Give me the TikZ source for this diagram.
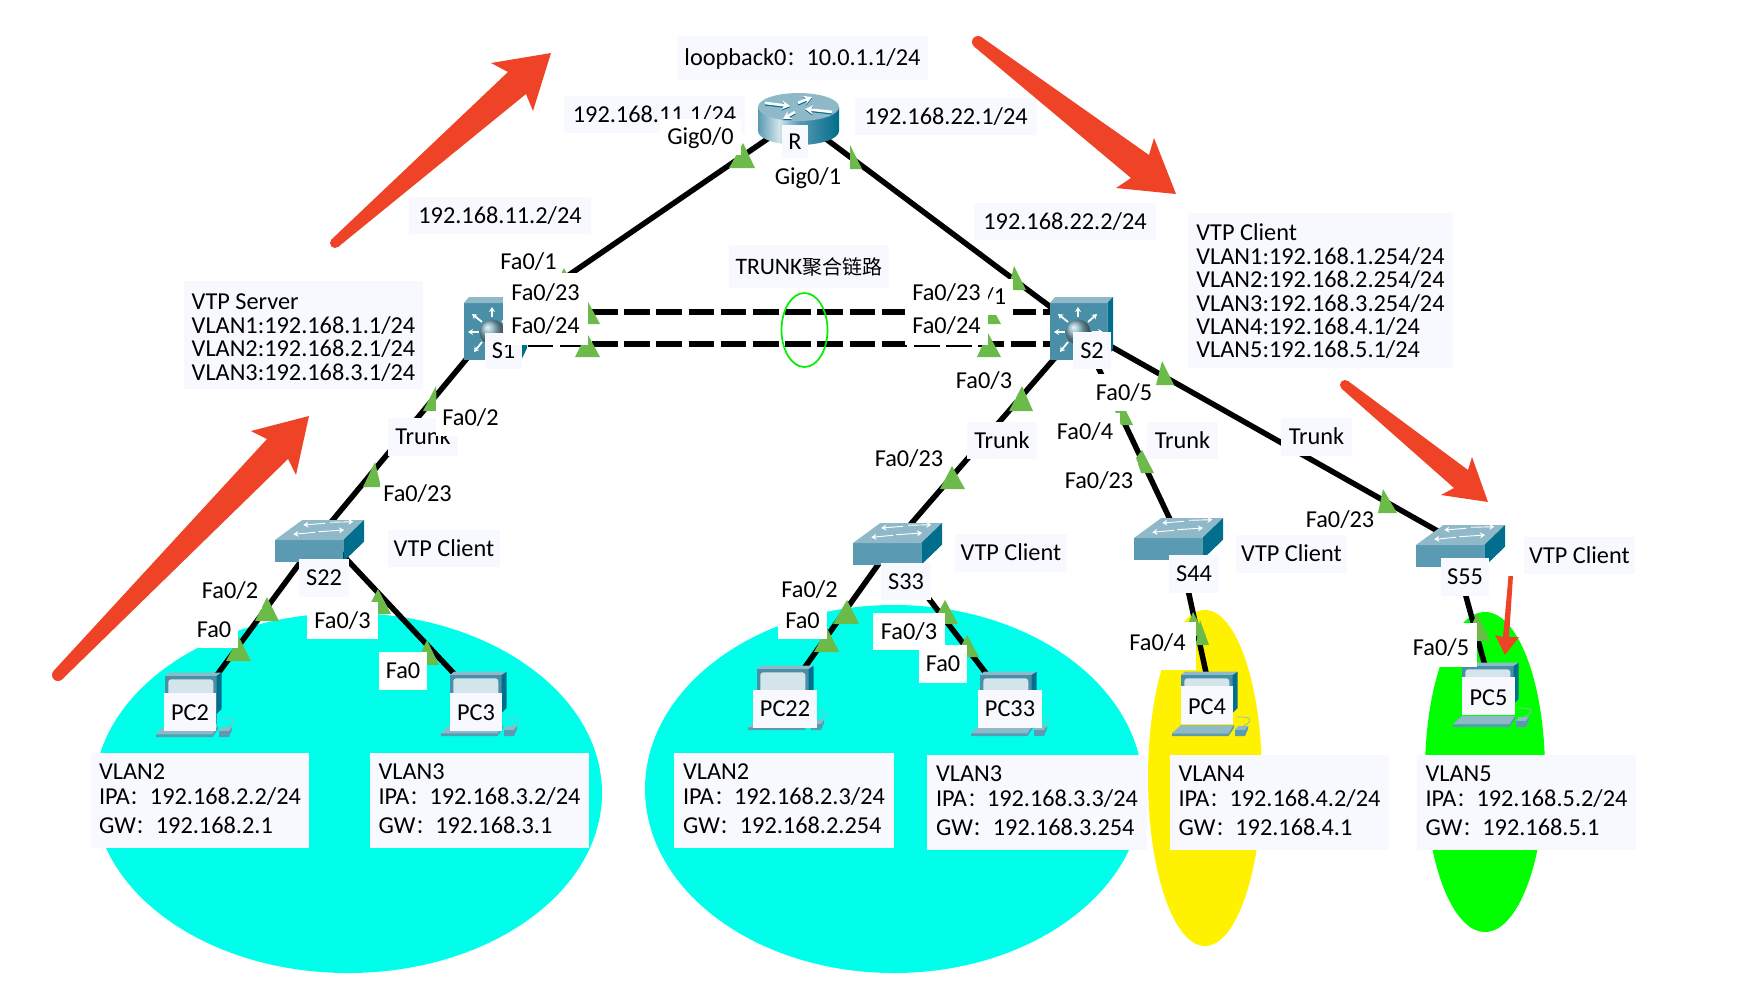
\documentclass[tikz,border=0pt]{standalone}
\usepackage{fontspec}
\setmainfont{Carlito}
\newfontfamily\cjk{Noto Sans CJK SC}
\usetikzlibrary{arrows.meta}
\definecolor{boxpale}{HTML}{F8F9FF}
\definecolor{cyanzone}{HTML}{00FFEA}
\definecolor{portc}{HTML}{6CBB4A}
\definecolor{redarrow}{HTML}{EE4327}
\definecolor{devfront}{HTML}{4A8FA8}
\definecolor{devtop}{HTML}{8FB9C9}
\definecolor{devdark}{HTML}{006E8C}
\definecolor{swfront}{HTML}{5A9AB2}
\definecolor{screenc}{HTML}{D3E4EB}
\definecolor{ringc}{HTML}{00EE00}
\pgfdeclarehorizontalshading{routerside}{100bp}{color(0bp)=(swfront); color(25bp)=(swfront); color(38bp)=(screenc); color(50bp)=(swfront); color(75bp)=(devdark); color(100bp)=(devdark)}
\newcommand{\fc}{{\cjk\fontsize{20}{24}\selectfont ：}}
\newcommand{\lastgap}{\rule[-3pt]{0pt}{3pt}}
\newcommand{\bx}[7]{%
  \pgfmathsetmacro\bxw{#4-#2}\pgfmathsetmacro\bxh{#5-#3}%
  \pgfmathsetmacro\bxcx{(#2+#4)/2}\pgfmathsetmacro\bxcy{(#3+#5)/2}%
  \node[#6,minimum width=\bxw pt,minimum height=\bxh pt] (#1) at (\bxcx,\bxcy) {#7};}
\newcommand{\tri}[5]{\fill[portc] (#1,#2) -- ++({#4},{#5}) -- ++({-(#4)-(#3)},0) -- cycle;}
\tikzset{
  linkline/.style={line width=5.5pt,black},
  trunkline/.style={line width=6pt,black,dash pattern=on 25.5pt off 6.7pt,dash phase=29.8pt},
  whitelbl/.style={font=\fontsize{24.3}{24}\selectfont,inner sep=0pt,text height=15.6pt,text depth=0pt,fill=white},
  palelbl/.style={whitelbl,fill=boxpale},
  infolbl/.style={font=\fontsize{24.3}{23.4}\selectfont,inner sep=0pt,fill=boxpale,align=left},
  vlanlbl/.style={font=\fontsize{24.3}{25}\selectfont,inner sep=0pt,fill=boxpale,align=left},
  devarrow/.style={white,line width=#1,-{Stealth[length=5pt,width=6pt]}},
  rarrow/.style={line width=2.6pt,-{Stealth[length=8pt,width=9pt]}},
  pcdev/.pic={
    \fill[devtop] (0,0) -- (4,-3.3) -- (56.7,-3.3) -- (51.7,0) -- cycle;
    \fill[devfront] (0,0) rectangle (51.7,48);
    \fill[devdark] (51.7,0) -- (56.7,-3.3) -- (56.7,33) -- (51.7,38) -- cycle;
    \fill[screenc,rounded corners=3pt] (3.3,3.3) rectangle (48.3,45);
    \draw[devtop,line width=.8pt] (56,42) .. controls (72,41) and (72,47) .. (62,51);
    \fill[devtop] (-9,58.3) -- (0,50) -- (53,50) -- (47.5,58.3) -- cycle;
    \fill[swfront] (-9,58.3) -- (47.5,58.3) -- (53,50) -- (53,53) -- (47.5,61) -- (-9,61) -- cycle;
    \fill[devtop] (54,55) -- (57,51) -- (67,51) -- (64,55) -- cycle;
    \fill[swfront] (54,55) -- (64,55) -- (67,51) -- (67,54) -- (64,61) -- (54,61) -- cycle;
  },
  swdev/.pic={
    \fill[swfront] (0,0) rectangle (68.3,21.7);
    \fill[devtop] (0,0) -- (27.3,-20) -- (89,-20) -- (68.3,0) -- cycle;
    \fill[devdark] (68.3,0) -- (89,-20) -- (89,1.7) -- (68.3,21.7) -- cycle;
    \draw[devarrow=.9pt] (50,-16.7) -- (28.3,-15);
    \draw[devarrow=.9pt] (55,-17.7) -- (78.3,-18.3);
    \draw[devarrow=.9pt] (40,-7.7) -- (18.3,-5.7);
    \draw[devarrow=.9pt] (43.3,-8.3) -- (69,-10);
  },
  l3dev/.pic={
    \fill[devfront] (0,0) rectangle (57.3,57);
    \fill[devtop] (0,0) -- (5,-6) -- (63,-6) -- (57.3,0) -- cycle;
    \fill[devdark] (57.3,0) -- (63,-6) -- (63,45) -- (57.3,57) -- cycle;
    \draw[devarrow=1.8pt] (28,14) -- (28,4);
    \draw[devarrow=1.8pt] (15,29) -- (4,29);
    \draw[devarrow=1.8pt] (18,19) -- (8,11);
    \draw[devarrow=1.8pt] (38,19) -- (47,11);
    \draw[devarrow=1.8pt] (18,39) -- (10,49);
    \draw[devarrow=1.8pt] (42,29) -- (53,29);
    \shade[ball color=devfront!70!white] (28,29) circle (12.5pt);
  }
}
\begin{document}
\begin{tikzpicture}[x=1pt,y=-1pt]
\useasboundingbox (0,0) rectangle (1740,988);
\fill[white] (0,0) rectangle (1740,988);
% zones
\fill[cyanzone] (348,793) ellipse [x radius=254pt,y radius=180pt];
\fill[cyanzone] (894,789) ellipse [x radius=249pt,y radius=184pt];
\fill[yellow] (1205,778) ellipse [x radius=57pt,y radius=168pt];
\fill[green] (1485,772) ellipse [x radius=60pt,y radius=160pt];
% connection points
\coordinate (cR) at (798,118);
\coordinate (cS1) at (493,327);
\coordinate (cS2) at (1080,329);
\coordinate (cS22) at (322,533);
\coordinate (cS33) at (890,548);
\coordinate (cS44) at (1175,530);
\coordinate (cS55) at (1450,538);
\coordinate (cPC2) at (191,710);
\coordinate (cPC3) at (476,697);
\coordinate (cPC22) at (790,688);
\coordinate (cPC33) at (1005,698);
\coordinate (cPC4) at (1212,700);
\coordinate (cPC5) at (1490,684);
\coordinate (tS1a) at (493,312);
\coordinate (tS2a) at (1080,312);
\coordinate (tS1b) at (493,344);
\coordinate (tS2b) at (1080,344);
% links
\draw[linkline] (cR) -- (cS1);
\draw[linkline] (cR) -- (cS2);
\draw[linkline] (cS1) -- (cS22);
\draw[linkline] (cS2) -- (cS33);
\draw[linkline] (cS2) -- (cS44);
\draw[linkline] (cS2) -- (cS55);
\draw[linkline] (cS22) -- (cPC2);
\draw[linkline] (cS22) -- (cPC3);
\draw[linkline] (cS33) -- (cPC22);
\draw[linkline] (cS33) -- (cPC33);
\draw[linkline] (cS44) -- (cPC4);
\draw[linkline] (cS55) -- (cPC5);
\draw[trunkline] (tS1a) -- (tS2a);
\draw[trunkline] (tS1b) -- (tS2b);
% router
\shade[shading=routerside] (758,107) -- (758,131) arc [start angle=180,end angle=360,x radius=40.5pt,y radius=14pt] -- (839,107) -- cycle;
\fill[devtop] (798.5,107) ellipse [x radius=40.5pt,y radius=14pt];
\draw[rarrow,devdark,shift={(0,1.2)}] (765,103) -- (790,106);
\draw[rarrow,devdark,shift={(0,1.2)}] (832,112) -- (805,109);
\draw[rarrow,devdark,shift={(0,1.2)}] (798,103) -- (812,97);
\draw[rarrow,devdark,shift={(0,1.2)}] (795,112) -- (783,119);
\draw[rarrow,white] (765,103) -- (790,106);
\draw[rarrow,white] (832,112) -- (805,109);
\draw[rarrow,white] (798,103) -- (812,97);
\draw[rarrow,white] (795,112) -- (783,119);
% devices
\pic at (464,303) {l3dev};
\pic at (1050,303) {l3dev};
\pic at (275,540) {swdev};
\pic at (853,543) {swdev};
\pic at (1134,538) {swdev};
\pic at (1416,545) {swdev};
\pic at (165,676) {pcdev};
\pic at (450,675) {pcdev};
\pic at (757,669) {pcdev};
\pic at (980,675) {pcdev};
\pic at (1181,675) {pcdev};
\pic at (1462,666) {pcdev};
% port markers
\tri{743}{143}{14}{12}{25}
\tri{850}{145}{0}{12}{24}
\tri{564}{268}{12}{12}{25}
\tri{587}{300}{13}{13}{24}
\tri{587}{333}{12}{13}{24}
\tri{1014}{266}{6}{12}{24}
\tri{988}{300}{13}{13}{24}
\tri{988}{333}{11}{13}{24}
\tri{436}{386}{13}{1}{25}
\tri{375}{462}{12}{6}{25}
\tri{267}{597}{12}{12}{24}
\tri{239}{637}{13}{12}{24}
\tri{378}{589}{13}{13}{25}
\tri{427}{640}{12}{12}{25}
\tri{1022}{386}{13}{11}{25}
\tri{952}{466}{12}{13}{23}
\tri{847}{600}{14}{12}{24}
\tri{827}{628}{13}{12}{24}
\tri{945}{600}{13}{13}{24}
\tri{967}{635}{12}{12}{22}
\fill[portc] (1115,411) -- (1126,411) -- (1133,425) -- (1121,425) -- cycle;
\tri{1162}{361}{6}{12}{24}
\fill[portc] (1142,450) -- (1154,473) -- (1141,473) -- (1136,458) -- cycle;
\tri{1193}{612}{10}{13}{24}
\tri{1200}{620}{4}{9}{25}
\tri{1383}{489}{5}{14}{24}
\tri{1477}{613}{12}{13}{28}
% labels
\bx{lbLoop}{677}{36}{928}{80}{palelbl}{loopback0\fc 10.0.1.1/24}
\bx{lbR11}{564}{96}{745}{133}{palelbl}{192.168.11.1/24}
\bx{lbGig0}{660}{119}{741}{155}{whitelbl}{Gig0/0}
\bx{lbR22}{855}{98}{1037}{135}{palelbl}{192.168.22.1/24}
\bx{lbR}{782}{125}{808}{159}{palelbl}{R}
\bx{lbGig1}{770}{158}{846}{195}{whitelbl}{Gig0/1}
\bx{lbS11}{409}{197}{591}{234}{palelbl}{192.168.11.2/24}
\bx{lbS22ip}{974}{203}{1156}{240}{palelbl}{192.168.22.2/24}
\bx{lbTrunkAgg}{729}{245}{889}{288}{palelbl}{\fontsize{23.6}{24}\selectfont TRUNK{\cjk\fontsize{20}{24}\selectfont 聚合链路}}
\bx{lbServer}{184}{281}{423}{389}{infolbl}{\rule{0pt}{21pt}VTP Server\\VLAN1:192.168.1.1/24\\VLAN2:192.168.2.1/24\\VLAN3:192.168.3.1/24}
\bx{lbClient}{1188}{213}{1453}{368}{infolbl}{\rule{0pt}{19pt}VTP Client\\VLAN1:192.168.1.254/24\\VLAN2:192.168.2.254/24\\VLAN3:192.168.3.254/24\\VLAN4:192.168.4.1/24\\VLAN5:192.168.5.1/24}
\bx{lbS1a}{497}{243}{560}{280}{whitelbl}{Fa0/1}
\bx{lbS1}{485}{333}{522}{369}{palelbl}{S1}
\bx{lbS1b}{503}{273}{588}{313}{whitelbl}{Fa0/23}
\bx{lbS1c}{503}{307}{588}{345}{whitelbl}{Fa0/24}
\bx{lbS2a}{943}{279}{1013}{315}{whitelbl}{Fa0/1}
\bx{lbS2b}{905}{273}{988}{313}{whitelbl}{Fa0/23}
\bx{lbS2c}{905}{307}{988}{345}{whitelbl}{Fa0/24}
\bx{lbS2}{1073}{332}{1111}{369}{palelbl}{S2}
\bx{lbS2d}{952}{362}{1016}{399}{whitelbl}{Fa0/3}
\bx{lbS2e}{1097}{374}{1151}{411}{whitelbl}{Fa0/5}
\bx{lbS2f}{1050}{413}{1120}{450}{whitelbl}{Fa0/4}
\bx{lbTr1}{388}{418}{458}{456}{palelbl}{Trunk}
\bx{lbS1d}{436}{400}{505}{436}{whitelbl}{Fa0/2}
\bx{lbS22a}{380}{475}{455}{512}{whitelbl}{Fa0/23}
\bx{lbTr2}{967}{422}{1037}{459}{palelbl}{Trunk}
\bx{lbS33a}{874}{440}{944}{477}{whitelbl}{Fa0/23}
\bx{lbTr3}{1147}{422}{1218}{459}{palelbl}{Trunk}
\bx{lbS44a}{1060}{462}{1138}{499}{whitelbl}{Fa0/23}
\bx{lbTr4}{1281}{418}{1352}{456}{palelbl}{Trunk}
\bx{lbS55a}{1303}{502}{1377}{538}{whitelbl}{Fa0/23}
\bx{lbV1}{388}{530}{500}{567}{palelbl}{VTP Client}
\bx{lbV2}{955}{534}{1067}{572}{palelbl}{VTP Client}
\bx{lbV3}{1236}{535}{1347}{573}{palelbl}{VTP Client}
\bx{lbV4}{1524}{537}{1635}{574}{palelbl}{VTP Client}
\bx{lbS22}{299}{559}{349}{597}{palelbl}{S22}
\bx{lbS33}{881}{563}{931}{600}{palelbl}{S33}
\bx{lbS44}{1169}{555}{1219}{593}{palelbl}{S44}
\bx{lbS55}{1441}{558}{1489}{596}{palelbl}{S55}
\bx{lbS22b}{198}{573}{262}{609}{whitelbl}{Fa0/2}
\bx{lbS22c}{190}{612}{238}{648}{whitelbl}{Fa0}
\bx{lbS22d}{307}{602}{378}{639}{whitelbl}{Fa0/3}
\bx{lbS22e}{379}{652}{427}{690}{whitelbl}{Fa0}
\bx{lbS33b}{777}{576}{842}{604}{whitelbl}{Fa0/2}
\bx{lbS33c}{778}{602}{827}{639}{whitelbl}{Fa0}
\bx{lbS33d}{873}{613}{945}{650}{whitelbl}{Fa0/3}
\bx{lbS33e}{919}{645}{967}{683}{whitelbl}{Fa0}
\bx{lbS44b}{1125}{622}{1196}{670}{whitelbl}{\raisebox{3pt}{\kern-6pt Fa0/4}}
\bx{lbS55b}{1405}{623}{1477}{667}{whitelbl}{\raisebox{-3pt}{Fa0/5}}
\bx{lbPC2}{164}{693}{216}{731}{palelbl}{\raisebox{-1pt}{PC2}}
\bx{lbPC3}{450}{693}{502}{731}{palelbl}{\raisebox{-1pt}{PC3}}
\bx{lbPC22}{753}{690}{817}{728}{palelbl}{PC22}
\bx{lbPC33}{978}{690}{1042}{728}{palelbl}{PC33}
\bx{lbPC4}{1181}{686}{1233}{724}{palelbl}{\raisebox{-2pt}{PC4}}
\bx{lbPC5}{1462}{677}{1515}{715}{palelbl}{\raisebox{-2pt}{PC5}}
\bx{lbIP2}{91}{753}{309}{848}{vlanlbl}{VLAN2\\IPA\fc 192.168.2.2/24\\[4pt]GW\fc 192.168.2.1\lastgap}
\bx{lbIP3}{370}{753}{589}{848}{vlanlbl}{VLAN3\\IPA\fc 192.168.3.2/24\\[4pt]GW\fc 192.168.3.1\lastgap}
\bx{lbIP22}{674}{753}{894}{848}{vlanlbl}{VLAN2\\IPA\fc 192.168.2.3/24\\[4pt]GW\fc 192.168.2.254\lastgap}
\bx{lbIP33}{927}{755}{1147}{850}{vlanlbl}{VLAN3\\IPA\fc 192.168.3.3/24\\[4pt]GW\fc 192.168.3.254\lastgap}
\bx{lbIP4}{1170}{755}{1389}{850}{vlanlbl}{VLAN4\\IPA\fc 192.168.4.2/24\\[4pt]GW\fc 192.168.4.1\lastgap}
\bx{lbIP5}{1417}{755}{1636}{850}{vlanlbl}{VLAN5\\IPA\fc 192.168.5.2/24\\[4pt]GW\fc 192.168.5.1\lastgap}
% aggregation ring
\draw[ringc,line width=1.7pt] (804.5,330) ellipse [x radius=23pt,y radius=37pt];
% red arrows
\fill[redarrow] (335,243) circle (5pt);
\fill[redarrow] (331.7,239.3) -- (508,72) -- (491,63) -- (551,53) -- (533,111) -- (526,94) -- (338.3,246.8) -- cycle;
\fill[redarrow] (58,675) circle (6pt);
\fill[redarrow] (53.7,670.8) -- (267,439) -- (251,431) -- (309,416) -- (296,475) -- (288,459) -- (62.3,679.2) -- cycle;
\fill[redarrow] (978,42) circle (6pt);
\fill[redarrow] (981.7,37.3) -- (1149,155) -- (1154,138) -- (1176,194) -- (1116,188) -- (1131,178) -- (974.3,46.7) -- cycle;
\fill[redarrow] (1345,385) circle (5pt);
\fill[redarrow] (1348,381) -- (1468,470) -- (1472,457) -- (1488,502) -- (1441,495) -- (1454,488) -- (1342,389) -- cycle;
\fill[redarrow] (1508.5,576) -- (1513,576) -- (1509,637) -- (1519,637) -- (1505,655) -- (1495,635) -- (1503,637) -- cycle;
\end{tikzpicture}
\end{document}
